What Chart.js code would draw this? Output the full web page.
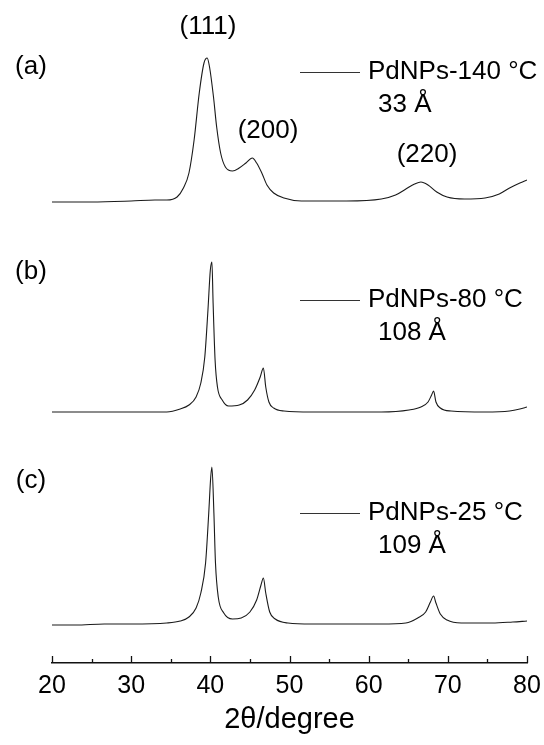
<!DOCTYPE html>
<html>
<head>
<meta charset="utf-8">
<script src="https://cdn.jsdelivr.net/npm/chart.js@4.4.0/dist/chart.umd.min.js"></script>
<style>
  html, body { margin: 0; padding: 0; background: #fff; overflow: hidden; }
  #grafico { display: block; }
</style>
</head>
<body>
<canvas id="grafico" width="544" height="745"></canvas>
<script>

// (a) PdNPs-140 °C
const anguloA = [20, 25, 30, 33, 34.5, 35.8, 36.6, 37.3, 37.95, 38.6, 39.2, 39.6, 39.9, 40.4, 40.8, 41.3, 41.9, 42.8, 43.65, 44.5, 45.3, 45.85, 46.5, 47.15, 48, 49.3, 51.5, 54, 57.2, 61.6, 63.4, 64.7, 65.8, 66.6, 67.5, 68.6, 69.9, 72.1, 74.7, 76.5, 77.8, 79.1, 80]
const intensidadA = [38, 38, 39, 40, 40, 43, 52, 67, 100, 147, 177, 182, 173, 143, 113, 87, 73, 69, 72, 77, 82, 77, 67, 55, 47, 42, 39, 39, 39, 41, 45, 51, 56, 58, 55, 48, 43, 41, 42, 46, 52, 57, 60]

// (b) PdNPs-80 °C
const anguloB = [20, 25, 30, 34.5, 36.2, 37.3, 38.2, 38.8, 39.3, 39.7, 40, 40.2, 40.35, 40.6, 40.9, 41.5, 42.3, 43.65, 44.7, 45.6, 46.3, 46.7, 47, 47.4, 48, 49.3, 52.8, 57, 61.6, 65.1, 66.6, 67.5, 67.95, 68.2, 68.5, 69.05, 70.4, 74.7, 77.8, 79.1, 80]
const intensidadB = [38, 38, 38, 38, 41, 45, 53, 67, 93, 140, 180, 188, 147, 90, 63, 50, 44, 45, 50, 60, 73, 82, 63, 48, 42, 39, 38, 38, 38, 40, 43, 48, 55, 59, 48, 42, 39, 38, 39, 41, 43]

// (c) PdNPs-25 °C
const anguloC = [20, 23, 26.6, 30, 34.5, 36.2, 37.3, 38.2, 38.8, 39.4, 39.8, 40.05, 40.2, 40.45, 40.65, 41, 41.7, 42.8, 43.9, 45, 45.85, 46.4, 46.7, 47, 47.5, 48.2, 49.8, 52.8, 57, 61.6, 64.7, 66.2, 67.2, 67.8, 68.2, 68.5, 69.05, 69.9, 71.7, 75.6, 78.2, 80]
const intensidadC = [38, 38, 39, 39, 40, 42, 46, 55, 70, 100, 150, 186, 196, 150, 100, 66, 50, 44, 45, 51, 63, 78, 85, 70, 51, 44, 40, 39, 39, 39, 40, 45, 51, 61, 67, 60, 49, 43, 40, 40, 41, 42]

// Desplazamiento vertical de cada curva (apiladas)
const desplazamientos = [423, 213, 0]

const muestras = ['PdNPs-140 °C', 'PdNPs-80 °C', 'PdNPs-25 °C']
const tamanos = ['33 Å', '108 Å', '109 Å']
const paneles = ['(a)', '(b)', '(c)']
const planos = ['(111)', '(200)', '(220)']

const ticksMayores = [20, 30, 40, 50, 60, 70, 80]
const ticksMenores = [25, 35, 45, 55, 65, 75]

const fuente = '"Liberation Sans", Arial, sans-serif'

// Une angulos e intensidades y suma el desplazamiento
const armarPuntos = (angulos, valores, desp) => angulos.map((a, i) => ({ x: a, y: valores[i] + desp }))

const series = [
  armarPuntos(anguloA, intensidadA, desplazamientos[0]),
  armarPuntos(anguloB, intensidadB, desplazamientos[1]),
  armarPuntos(anguloC, intensidadC, desplazamientos[2])
]

// Marcas del eje (hacia adentro) y textos de las curvas
const anotaciones = {
  id: 'anotaciones',
  afterDraw(chart) {
    const ctx = chart.ctx
    const ejeX = chart.scales.x
    const yEje = ejeX.top

    ctx.save()
    ctx.strokeStyle = '#111'
    ctx.lineWidth = 1.3
    ticksMayores.forEach(v => {
      const px = Math.round(ejeX.getPixelForValue(v)) + 0.5
      ctx.beginPath()
      ctx.moveTo(px, yEje)
      ctx.lineTo(px, yEje - 7)
      ctx.stroke()
    })
    ticksMenores.forEach(v => {
      const px = Math.round(ejeX.getPixelForValue(v)) + 0.5
      ctx.beginPath()
      ctx.moveTo(px, yEje)
      ctx.lineTo(px, yEje - 4)
      ctx.stroke()
    })

    ctx.fillStyle = '#000'
    ctx.font = '26px ' + fuente
    ctx.textBaseline = 'middle'

    // Indices de Miller sobre la curva (a)
    ctx.textAlign = 'center'
    ctx.fillText(planos[0], 208, 27)
    ctx.fillText(planos[1], 268, 131)
    ctx.fillText(planos[2], 427, 155)

    // Etiquetas de panel
    const yPanel = [67, 272, 481]
    paneles.forEach((t, i) => ctx.fillText(t, 31, yPanel[i]))

    // Leyendas de cada curva
    const yLeyenda = [72, 300, 513]
    ctx.textAlign = 'left'
    ctx.lineWidth = 1
    ctx.strokeStyle = '#333'
    muestras.forEach((t, i) => {
      const y = yLeyenda[i]
      ctx.beginPath()
      ctx.moveTo(300, y + 0.5)
      ctx.lineTo(360, y + 0.5)
      ctx.stroke()
      ctx.fillText(t, 368, y)
      ctx.fillText(tamanos[i], 378, y + 33)
    })
    ctx.restore()
  }
}

const ctx = document.getElementById('grafico').getContext('2d')
const chart = new Chart(ctx, {
  type: 'line',
  data: {
    datasets: series.map((puntos, i) => ({
      label: muestras[i],
      data: puntos,
      borderColor: '#1a1a1a',
      borderWidth: 1.1,
      pointRadius: 0,
      cubicInterpolationMode: 'monotone',
      fill: false
    }))
  },
  options: {
    responsive: false,
    animation: false,
    layout: { padding: { left: 52, right: 17, top: 20, bottom: 0 } },
    plugins: {
      legend: { display: false },
      tooltip: { enabled: false }
    },
    scales: {
      x: {
        type: 'linear',
        min: 20,
        max: 80,
        grid: { display: false, drawTicks: false },
        border: { display: true, color: '#111', width: 1.5 },
        ticks: {
          stepSize: 10,
          padding: 8,
          color: '#000',
          font: { family: fuente, size: 25 }
        },
        title: {
          display: true,
          text: '2θ/degree',
          color: '#000',
          font: { family: fuente, size: 29 },
          padding: { top: 0, bottom: 8 }
        },
        afterFit: (escala) => {
          escala.height = 82
          escala.paddingLeft = 0 // el margen ya lo da layout.padding
          escala.paddingRight = 0
        }
      },
      y: {
        display: false,
        min: 0,
        max: 643
      }
    }
  },
  plugins: [anotaciones]
})
</script>
</body>
</html>
